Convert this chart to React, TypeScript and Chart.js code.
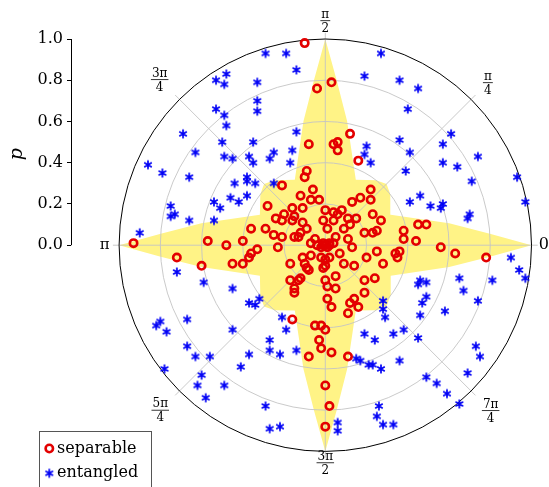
import React, { useEffect, useRef } from 'react';
import { Chart, registerables } from 'chart.js';

Chart.register(...registerables);

// ---------- data ----------
const P_TICKS = [0, 0.2, 0.4, 0.6, 0.8, 1.0];
const GRID_RADII = [0.2, 0.4, 0.6, 0.8];
const SPOKE_ANGLES = [0, 45, 90, 135, 180, 225, 270, 315];
const ANGLE_NUM = ['0', 'π', 'π', '3π', 'π', '5π', '3π', '7π'];
const ANGLE_DEN = ['', '4', '2', '4', '', '4', '2', '4'];
const SERIES_LABELS = ['separable', 'entangled'];

// boundary of the yellow region: angle (deg) and radius p
const REGION_ANGLE = [
  0, 4, 10, 25, 38, 45, 52, 65, 80, 86,
  90, 94, 100, 115, 128, 135, 142, 155, 170, 176,
  180, 184, 190, 205, 218, 225, 232, 245, 260, 266,
  270, 274, 280, 295, 308, 315, 322, 335, 350, 356, 360,
];
const REGION_R = [
  1.0, 0.8, 0.61, 0.35, 0.4, 0.42, 0.4, 0.35, 0.61, 0.8,
  1.0, 0.8, 0.61, 0.35, 0.4, 0.42, 0.4, 0.35, 0.61, 0.8,
  1.0, 0.8, 0.61, 0.35, 0.4, 0.42, 0.4, 0.35, 0.61, 0.8,
  1.0, 0.8, 0.61, 0.35, 0.4, 0.42, 0.4, 0.35, 0.61, 0.8, 1.0,
];

// points as (p cos θ, p sin θ)
const SEPARABLE: [number, number][] = [
  [-0.10, 0.98], [-0.04, 0.76], [0.03, 0.79], [0.12, 0.54], [-0.08, 0.49], [0.04, 0.49], [0.06, 0.50],
  [0.06, 0.46], [0.16, 0.41], [-0.09, 0.36], [-0.10, 0.33], [-0.21, 0.29], [-0.12, 0.24], [-0.06, 0.27],
  [-0.07, 0.22], [-0.03, 0.22], [0.22, 0.27], [0.17, 0.23], [0.13, 0.21], [0.22, 0.22], [-0.28, 0.19],
  [-0.16, 0.18], [-0.11, 0.18], [-0.20, 0.15], [-0.21, 0.12], [-0.24, 0.13], [-0.15, 0.14], [0.00, 0.17],
  [0.04, 0.16], [0.06, 0.15], [0.08, 0.17], [-0.01, 0.12], [0.04, 0.12], [0.11, 0.13], [0.15, 0.13],
  [0.12, 0.10], [0.09, 0.08], [0.23, 0.15], [0.27, 0.12], [-0.16, 0.12], [-0.11, 0.11], [-0.09, 0.08],
  [-0.12, 0.06], [-0.29, 0.08], [-0.25, 0.05], [-0.21, 0.04], [-0.36, 0.08], [0.01, 0.08], [0.19, 0.06],
  [0.25, 0.07], [0.23, 0.06], [0.38, 0.07], [0.45, 0.10], [0.49, 0.10], [0.38, 0.03], [0.44, 0.02],
  [0.56, -0.01], [-0.57, 0.02], [-0.48, 0.00], [-0.40, 0.02], [-0.23, -0.01], [-0.15, 0.04], [-0.13, 0.04],
  [-0.05, 0.03], [-0.07, 0.01], [-0.04, 0.00], [-0.01, 0.00], [0.02, 0.00], [0.04, 0.01], [0.05, 0.04],
  [0.00, 0.00], [0.01, -0.01], [-0.01, 0.01], [0.02, 0.01], [-0.02, -0.01], [0.11, 0.03], [0.13, -0.01],
  [-0.33, -0.02], [-0.36, -0.04], [-0.37, -0.06], [-0.45, -0.09], [-0.40, -0.09], [-0.60, -0.10],
  [-0.11, -0.06], [-0.07, -0.05], [-0.10, -0.09], [-0.09, -0.11], [-0.08, -0.12], [-0.02, -0.06],
  [0.02, -0.06], [0.00, -0.07], [-0.01, -0.11], [0.00, -0.10], [0.07, -0.04], [0.09, -0.09], [0.14, -0.10],
  [0.20, -0.06], [0.25, -0.03], [0.28, -0.09], [0.34, -0.04], [0.36, -0.03], [0.35, -0.06], [-0.17, -0.09],
  [-0.12, -0.16], [-0.13, -0.17], [-0.17, -0.17], [-0.15, -0.21], [-0.15, -0.23], [0.00, -0.17],
  [0.01, -0.20], [0.05, -0.15], [0.05, -0.21], [0.19, -0.17], [0.24, -0.16], [0.19, -0.23], [0.01, -0.26],
  [0.14, -0.26], [0.12, -0.28], [0.16, -0.30], [0.11, -0.33], [0.03, -0.30], [-0.16, -0.36], [-0.05, -0.39],
  [-0.02, -0.39], [0.00, -0.41], [-0.03, -0.46], [-0.02, -0.50], [0.03, -0.52], [-0.08, -0.54], [0.11, -0.54],
  [-0.93, 0.01], [-0.72, -0.06], [0.63, -0.04], [0.78, -0.06], [0.00, -0.88], [0.00, -0.68], [0.02, -0.78],
];

const ENTANGLED: [number, number][] = [
  [-0.48, 0.58], [-0.14, 0.55], [-0.50, 0.50], [-0.35, 0.50], [-0.49, 0.43], [-0.45, 0.42], [-0.37, 0.43],
  [-0.35, 0.40], [-0.25, 0.45], [-0.27, 0.42], [-0.16, 0.46], [-0.17, 0.40], [0.20, 0.48], [0.19, 0.44],
  [0.22, 0.40], [0.36, 0.51], [0.41, 0.45], [0.57, 0.49], [0.57, 0.40], [0.39, 0.36], [-0.44, 0.30],
  [-0.38, 0.33], [-0.38, 0.31], [-0.34, 0.30], [-0.25, 0.30], [-0.38, 0.24], [-0.46, 0.23], [-0.42, 0.21],
  [-0.54, 0.21], [-0.51, 0.18], [-0.54, 0.12], [0.41, 0.21], [0.46, 0.24], [0.51, 0.19], [0.56, 0.18],
  [0.57, 0.20], [-0.59, -0.18], [-0.45, -0.21], [-0.37, -0.28], [-0.34, -0.29], [-0.32, -0.26],
  [0.46, -0.17], [0.45, -0.19], [0.49, -0.18], [0.49, -0.25], [0.47, -0.28], [0.58, -0.32], [0.28, -0.27],
  [0.28, -0.31], [0.29, -0.35], [0.46, -0.34], [-0.21, -0.35], [-0.19, -0.41], [-0.45, -0.41],
  [-0.27, -0.46], [-0.27, -0.51], [-0.22, -0.53], [-0.14, -0.51], [0.19, -0.43], [0.24, -0.46],
  [0.33, -0.43], [0.38, -0.41], [0.45, -0.45], [-0.56, -0.54], [-0.37, -0.53], [-0.41, -0.59],
  [0.15, -0.55], [0.17, -0.56], [0.21, -0.58], [0.23, -0.58], [0.27, -0.60], [0.36, -0.56],
  [-0.48, 0.83], [-0.53, 0.80], [-0.49, 0.78], [-0.53, 0.66], [-0.49, 0.63],
  [-0.90, 0.06], [-0.75, 0.19], [-0.75, 0.14], [-0.73, 0.15], [-0.66, 0.12], [-0.72, -0.13],
  [0.69, 0.13], [0.97, 0.21], [0.90, -0.06], [0.94, -0.12], [0.97, -0.16], [0.65, -0.16], [0.81, -0.17],
  [0.54, -0.67], [0.59, -0.72], [0.65, -0.77], [-0.78, -0.60], [-0.60, -0.63], [-0.62, -0.68],
  [-0.49, -0.68], [-0.58, -0.74], [0.06, -0.86], [0.06, -0.90], [0.28, -0.87], [0.33, -0.87],
  [-0.22, -0.88], [-0.19, 0.93], [-0.29, 0.93], [0.27, 0.93], [-0.14, 0.85], [-0.33, 0.79],
  [-0.33, 0.70], [-0.33, 0.65], [-0.69, 0.54], [-0.86, 0.39], [-0.79, 0.35], [-0.63, 0.45],
  [-0.66, 0.33], [0.19, 0.82], [0.45, 0.76], [0.36, 0.80], [0.40, 0.66], [0.61, 0.54], [0.74, 0.43],
  [0.64, 0.38], [0.71, 0.31], [0.93, 0.33], [0.70, 0.15], [-0.80, -0.37], [-0.77, -0.42],
  [-0.82, -0.39], [-0.67, -0.49], [-0.67, -0.36], [-0.63, -0.54], [-0.29, -0.78], [-0.27, -0.89],
  [0.67, -0.22], [0.74, -0.27], [0.73, -0.49], [0.75, -0.54], [0.69, -0.62], [0.49, -0.64],
  [0.26, -0.78], [0.25, -0.83],
];

// ---------- styling ----------
const RED = '#e30000';
const BLUE = '#0000f5';
const YELLOW = '#fff386';
const GRID = '#c4c4c4';
const SERIF = '"DejaVu Serif", serif';
const X_MIN = -1.2333;

function makeAsterisk(color: string): HTMLCanvasElement {
  const size = 12;
  const c = document.createElement('canvas');
  c.width = size;
  c.height = size;
  const ctx = c.getContext('2d')!;
  ctx.strokeStyle = color;
  ctx.lineWidth = 1.7;
  const r = 4.4;
  ctx.beginPath();
  for (const a of [90, 30, 150]) {
    const t = (a * Math.PI) / 180;
    ctx.moveTo(size / 2 + r * Math.cos(t), size / 2 - r * Math.sin(t));
    ctx.lineTo(size / 2 - r * Math.cos(t), size / 2 + r * Math.sin(t));
  }
  ctx.stroke();
  return c;
}

const LABEL_DIST = [1.06, 1.115, 1.089, 1.136, 1.07, 1.132, 1.055, 1.134];

function geometry(chart: any) {
  const xs = chart.scales.x;
  const ys = chart.scales.y;
  const cx = xs.getPixelForValue(0);
  const cy = ys.getPixelForValue(0);
  const R = xs.getPixelForValue(1) - cx;
  return { xs, ys, cx, cy, R };
}

const polarPlugin = {
  id: 'polarDecor',
  afterDatasetDraw(chart: any, args: any) {
    if (args.index !== 2) return;
    const ctx = chart.ctx;
    const { cx, cy, R } = geometry(chart);
    ctx.save();
    ctx.strokeStyle = GRID;
    ctx.lineWidth = 0.9;
    for (const r of GRID_RADII) {
      ctx.beginPath();
      ctx.arc(cx, cy, r * R, 0, Math.PI * 2);
      ctx.stroke();
    }
    for (const a of SPOKE_ANGLES) {
      const t = (a * Math.PI) / 180;
      ctx.beginPath();
      ctx.moveTo(cx, cy);
      ctx.lineTo(cx + 1.03 * R * Math.cos(t), cy - 1.03 * R * Math.sin(t));
      ctx.stroke();
    }
    ctx.strokeStyle = '#000';
    ctx.lineWidth = 1;
    ctx.beginPath();
    ctx.arc(cx, cy, R, 0, Math.PI * 2);
    ctx.stroke();
    ctx.restore();
  },
  afterDraw(chart: any) {
    const ctx = chart.ctx;
    const { ys, cx, cy, R } = geometry(chart);
    ctx.save();
    // angle labels
    ctx.fillStyle = '#000';
    ctx.strokeStyle = '#000';
    SPOKE_ANGLES.forEach((a, i) => {
      const t = (a * Math.PI) / 180;
      const d = LABEL_DIST[i] * R;
      const lx = cx + d * Math.cos(t);
      const ly = cy - d * Math.sin(t);
      if (!ANGLE_DEN[i]) {
        ctx.font = (ANGLE_NUM[i] === '0' ? '16px ' : '15px ') + SERIF;
        ctx.textAlign = 'center';
        ctx.textBaseline = 'middle';
        ctx.fillText(ANGLE_NUM[i], lx, ly);
      } else {
        ctx.font = '12px ' + SERIF;
        ctx.textAlign = 'center';
        ctx.textBaseline = 'alphabetic';
        const w = Math.max(ctx.measureText(ANGLE_NUM[i]).width, ctx.measureText(ANGLE_DEN[i]).width) + 2;
        ctx.fillText(ANGLE_NUM[i], lx, ly - 3);
        ctx.fillText(ANGLE_DEN[i], lx, ly + 11);
        ctx.lineWidth = 0.8;
        ctx.beginPath();
        ctx.moveTo(lx - w / 2, ly);
        ctx.lineTo(lx + w / 2, ly);
        ctx.stroke();
      }
    });
    // p axis line
    const ax = chart.chartArea.left + 0.5;
    ctx.lineWidth = 1;
    ctx.beginPath();
    ctx.moveTo(ax, ys.getPixelForValue(P_TICKS[0]));
    ctx.lineTo(ax, ys.getPixelForValue(P_TICKS[P_TICKS.length - 1]));
    ctx.stroke();
    // p title
    ctx.save();
    ctx.translate(17, (ys.getPixelForValue(0) + ys.getPixelForValue(1)) / 2 + 12);
    ctx.rotate(-Math.PI / 2);
    ctx.font = 'italic 19px ' + SERIF;
    ctx.textAlign = 'center';
    ctx.textBaseline = 'middle';
    ctx.fillText('p', 0, 0);
    ctx.restore();
    // legend
    ctx.fillStyle = '#fff';
    ctx.fillRect(39.5, 431.5, 112, 70);
    ctx.strokeStyle = '#555';
    ctx.lineWidth = 1;
    ctx.strokeRect(39.5, 431.5, 112, 70);
    ctx.strokeStyle = RED;
    ctx.lineWidth = 2.6;
    ctx.beginPath();
    ctx.arc(49.3, 448.5, 3.7, 0, Math.PI * 2);
    ctx.stroke();
    const img = chart.data.datasets[1].pointStyle;
    ctx.drawImage(img, 49.3 - img.width / 2, 473.3 - img.height / 2);
    ctx.fillStyle = '#000';
    ctx.font = '16px ' + SERIF;
    ctx.textAlign = 'left';
    ctx.textBaseline = 'middle';
    ctx.fillText(SERIES_LABELS[0], 57, 448.5);
    ctx.fillText(SERIES_LABELS[1], 57, 473);
    ctx.restore();
  },
};

export default function App() {
  const ref = useRef<HTMLCanvasElement>(null);
  useEffect(() => {
    const canvas = ref.current!;
    const star = makeAsterisk(BLUE);
    const region = REGION_ANGLE.map((a, i) => ({
      x: REGION_R[i] * Math.cos((a * Math.PI) / 180),
      y: REGION_R[i] * Math.sin((a * Math.PI) / 180),
    }));
    const chart = new Chart(canvas, {
      type: 'scatter',
      data: {
        datasets: [
          {
            label: SERIES_LABELS[0],
            data: SEPARABLE.map(([x, y]) => ({ x, y })),
            pointStyle: 'circle',
            pointRadius: 3.7,
            borderWidth: 2.6,
            borderColor: RED,
            backgroundColor: 'rgba(0,0,0,0)',
            order: 1,
            clip: false,
          } as any,
          {
            label: SERIES_LABELS[1],
            data: ENTANGLED.map(([x, y]) => ({ x, y })),
            pointStyle: star,
            pointRadius: 6,
            borderColor: BLUE,
            backgroundColor: BLUE,
            order: 2,
            clip: false,
          } as any,
          {
            label: 'region',
            type: 'line',
            data: region,
            showLine: true,
            fill: 'shape',
            backgroundColor: YELLOW,
            borderColor: 'rgba(0,0,0,0)',
            borderWidth: 0,
            pointRadius: 0,
            tension: 0,
            order: 10,
            clip: false,
          } as any,
        ],
      },
      options: {
        responsive: false,
        animation: false,
        events: [],
        layout: { padding: { left: 8, right: 17.5, top: 39, bottom: 35.6 } },
        plugins: { legend: { display: false }, tooltip: { enabled: false } },
        scales: {
          x: { type: 'linear', min: X_MIN, max: 1, display: false },
          y: {
            type: 'linear',
            min: -1,
            max: 1,
            position: 'left',
            afterBuildTicks: (s: any) => {
              s.ticks = P_TICKS.map((v) => ({ value: v }));
            },
            afterFit: (s: any) => {
              s.width = 63;
            },
            ticks: {
              font: { family: SERIF, size: 16 },
              color: '#000',
              padding: 4,
              autoSkip: false,
              callback: (v: any) => Number(v).toFixed(1),
            },
            grid: { drawOnChartArea: false, drawTicks: true, tickLength: 4, color: '#000', lineWidth: 1 },
            border: { display: false },
          },
        },
      } as any,
      plugins: [polarPlugin],
    });
    return () => chart.destroy();
  }, []);
  return (
    <div style={{ position: 'fixed', left: 0, top: 0, width: 549, height: 487, background: '#fff' }}>
      <canvas ref={ref} width={549} height={487} style={{ display: 'block' }} />
    </div>
  );
}
